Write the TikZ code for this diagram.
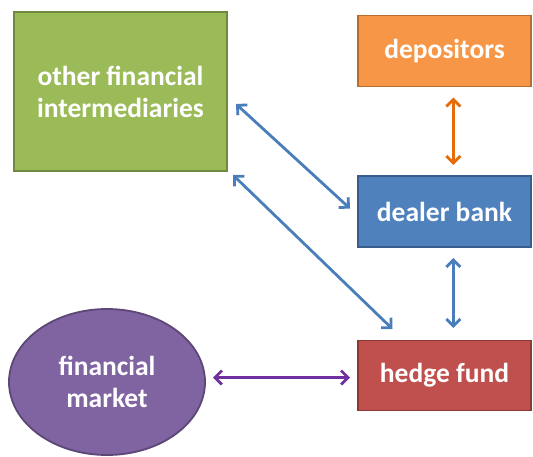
\documentclass[tikz,border=0pt]{standalone}
\usepackage{fontspec}
\setmainfont{Carlito}
\usetikzlibrary{arrows.meta,shapes.geometric}
\definecolor{greenfill}{HTML}{9BBB59}
\definecolor{greenline}{HTML}{71893F}
\definecolor{orangefill}{HTML}{F79646}
\definecolor{orangeline}{HTML}{B66D31}
\definecolor{bluefill}{HTML}{4F81BD}
\definecolor{blueline}{HTML}{385D8A}
\definecolor{redfill}{HTML}{C0504D}
\definecolor{redline}{HTML}{8C3836}
\definecolor{purplefill}{HTML}{8064A2}
\definecolor{purpleline}{HTML}{5C4776}
\definecolor{bluearrow}{HTML}{4A7EBB}
\definecolor{orangearrow}{HTML}{E46C0A}
\definecolor{purplearrow}{HTML}{7030A0}
\tikzset{
  box/.style={draw, line width=1.8pt, text=white, font=\bfseries\fontsize{27.5}{32}\selectfont, align=center, inner sep=0pt},
  link/.style={line width=2.8pt, {Straight Barb[length=7pt,width=14pt,line width=2.8pt]}-{Straight Barb[length=7pt,width=14pt,line width=2.8pt]}}
}
\begin{document}
\begin{tikzpicture}[x=1pt,y=-1pt]
\useasboundingbox (0,0) rectangle (533,456);
\node[box, fill=greenfill, draw=greenline, minimum width=213pt, minimum height=159pt] (ofi) at (120.5,91.5) {other financial\\intermediaries};
\node[box, fill=orangefill, draw=orangeline, minimum width=173pt, minimum height=71pt] (dep) at (444.5,51) {depositors};
\node[box, fill=bluefill, draw=blueline, minimum width=173pt, minimum height=71pt] (db) at (444.5,211.5) {dealer bank};
\node[box, fill=redfill, draw=redline, minimum width=173pt, minimum height=70pt] (hf) at (444.5,375.5) {hedge fund};
\node[box, ellipse, fill=purplefill, draw=purpleline, minimum width=196pt, minimum height=146pt] (fm) at (107,382) {financial\\market};
\coordinate (a1) at (453.3,97.5);
\coordinate (a2) at (453.3,165);
\coordinate (b1) at (453.3,258);
\coordinate (b2) at (453.3,328);
\coordinate (c1) at (236,104);
\coordinate (c2) at (350,208.5);
\coordinate (d1) at (233,175);
\coordinate (d2) at (392.5,329);
\coordinate (e1) at (213,377.5);
\coordinate (e2) at (350,377.5);
\draw[link, orangearrow] (a1) -- (a2);
\draw[link, bluearrow] (b1) -- (b2);
\draw[link, bluearrow] (c1) -- (c2);
\draw[link, bluearrow] (d1) -- (d2);
\draw[link, purplearrow] (e1) -- (e2);
\end{tikzpicture}
\end{document}
